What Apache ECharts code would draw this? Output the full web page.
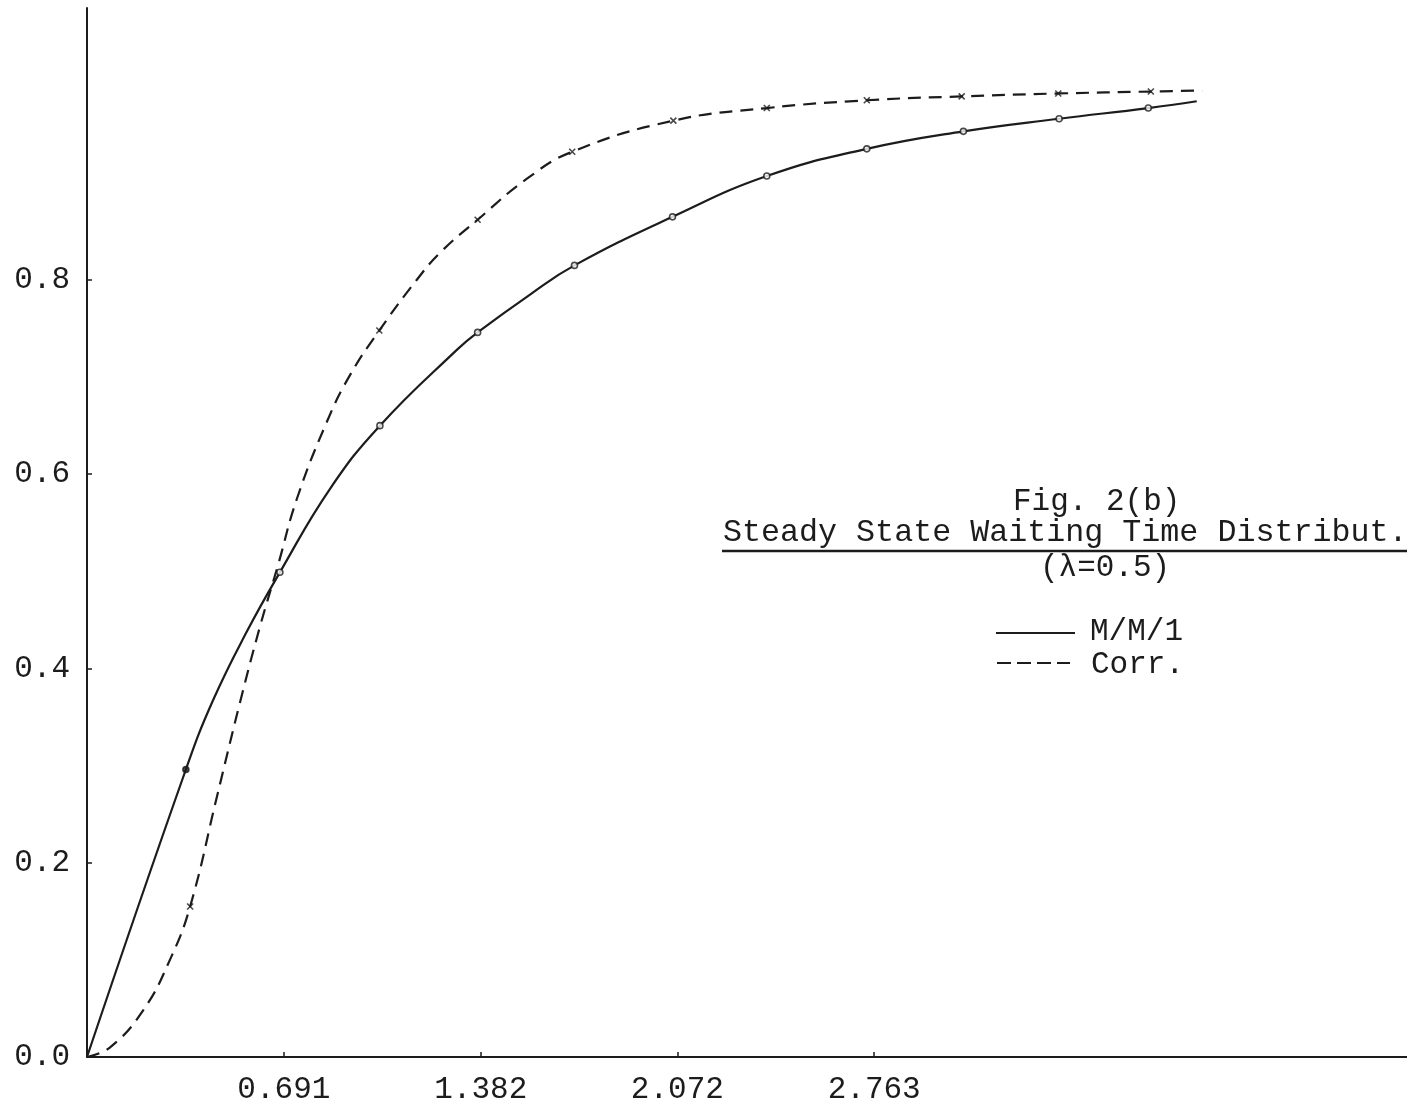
<!DOCTYPE html>
<html>
<head>
<meta charset="utf-8">
<title>Fig. 2(b)</title>
<script src="https://cdn.jsdelivr.net/npm/echarts@6/dist/echarts.min.js"></script>
<style>
  html, body { margin: 0; padding: 0; background: #fff; }
  #chart { width: 1407px; height: 1108px; }
</style>
</head>
<body>
<div id="chart"></div>
<script>
// tick labels
var xTickValues = [0.691, 1.382, 2.072, 2.763];
var yTickValues = [0.0, 0.2, 0.4, 0.6, 0.8];

// M/M/1 - curve points
var mm1CurveX = [0, 0.347, 0.442, 0.561, 0.677, 0.853, 1.028, 1.298, 1.371, 1.555, 1.711, 2.055, 2.386, 2.737, 3.076, 3.412, 3.725, 3.895];
var mm1CurveY = [0, 0.296, 0.367, 0.438, 0.499, 0.585, 0.650, 0.728, 0.746, 0.785, 0.815, 0.865, 0.907, 0.935, 0.953, 0.966, 0.977, 0.984];
// M/M/1 - plotted circles
var mm1MarkX = [0.347, 0.677, 1.028, 1.371, 1.711, 2.055, 2.386, 2.737, 3.076, 3.412, 3.725];
var mm1MarkY = [0.296, 0.499, 0.650, 0.746, 0.815, 0.865, 0.907, 0.935, 0.953, 0.966, 0.977];

// Corr. - curve points
var corrCurveX = [0, 0.081, 0.197, 0.291, 0.362, 0.456, 0.537, 0.607, 0.671, 0.737, 0.842, 0.923, 1.026, 1.157, 1.239, 1.371, 1.543, 1.703, 2.058, 2.386, 2.737, 3.070, 3.409, 3.734, 3.914];
var corrCurveY = [0, 0.010, 0.048, 0.100, 0.155, 0.268, 0.365, 0.443, 0.507, 0.575, 0.654, 0.702, 0.748, 0.800, 0.828, 0.862, 0.904, 0.932, 0.964, 0.977, 0.985, 0.989, 0.992, 0.994, 0.995];
// Corr. - plotted crosses
var corrMarkX = [0.362, 1.026, 1.371, 1.703, 2.058, 2.386, 2.737, 3.070, 3.409, 3.734];
var corrMarkY = [0.155, 0.748, 0.862, 0.932, 0.964, 0.977, 0.985, 0.989, 0.992, 0.994];

var ink = '#1c1c1c';
var monoFont = '"Liberation Mono", "DejaVu Sans Mono", monospace';

function zipPoints(xs, ys) {
  var out = [];
  for (var i = 0, len = xs.length; i < len; i++) {
    out.push([xs[i], ys[i]]);
  }
  return out;
}

// first M/M/1 point is drawn as a filled dot
var mm1Marks = zipPoints(mm1MarkX, mm1MarkY).map(function (p, i) {
  return i === 0 ? { value: p, itemStyle: { color: ink } } : p;
});

function textEl(str, x, y, size) {
  return {
    type: 'text',
    style: {
      text: str, x: x, y: y,
      fill: ink, font: (size || 31) + 'px ' + monoFont,
      textAlign: 'left', textVerticalAlign: 'middle'
    }
  };
}

function lineEl(x1, x2, y, dash, width) {
  return {
    type: 'line',
    shape: { x1: x1, y1: y, x2: x2, y2: y },
    style: { stroke: ink, lineWidth: width || 2.2, lineDash: dash || null }
  };
}

var chart = echarts.init(document.getElementById('chart'));

var option = {
  backgroundColor: '#fff',
  animation: false,
  grid: { left: 87, right: 0, top: 8, bottom: 51 },
  xAxis: {
    type: 'value',
    min: 0,
    max: 4.633,
    axisLine: { lineStyle: { color: ink, width: 2 } },
    axisTick: { show: true, inside: true, length: 5, customValues: xTickValues, lineStyle: { color: ink, width: 1.5 } },
    axisLabel: {
      customValues: xTickValues,
      margin: 17,
      color: ink,
      fontFamily: monoFont,
      fontSize: 31,
      formatter: function (v) { return v.toFixed(3); }
    },
    splitLine: { show: false }
  },
  yAxis: {
    type: 'value',
    min: 0,
    max: 1.08,
    axisLine: { show: true, lineStyle: { color: ink, width: 2 } },
    axisTick: { show: true, inside: true, length: 5, customValues: [0.2, 0.4, 0.6, 0.8], lineStyle: { color: ink, width: 1.5 } },
    axisLabel: {
      customValues: yTickValues,
      margin: 17,
      color: ink,
      fontFamily: monoFont,
      fontSize: 31,
      formatter: function (v) { return v.toFixed(1); }
    },
    splitLine: { show: false }
  },
  series: [
    {
      name: 'M/M/1',
      type: 'line',
      data: zipPoints(mm1CurveX, mm1CurveY),
      smooth: 0.45,
      symbol: 'none',
      lineStyle: { color: ink, width: 2.2 },
      z: 2
    },
    {
      name: 'Corr.',
      type: 'line',
      data: zipPoints(corrCurveX, corrCurveY),
      smooth: 0.45,
      symbol: 'none',
      lineStyle: { color: ink, width: 2.2, type: [13, 8] },
      z: 2
    },
    {
      name: 'M/M/1 points',
      type: 'scatter',
      data: mm1Marks,
      symbol: 'circle',
      symbolSize: 6,
      itemStyle: { color: '#fff', borderColor: ink, borderWidth: 1.6 },
      z: 3
    },
    {
      name: 'Corr. points',
      type: 'scatter',
      data: zipPoints(corrMarkX, corrMarkY),
      symbol: 'path://M0,0L10,10M10,0L0,10',
      symbolSize: 6,
      itemStyle: { color: 'transparent', borderColor: ink, borderWidth: 1.6 },
      z: 3
    }
  ],
  graphic: [
    textEl('Fig. 2(b)', 1013, 502),
    textEl('Steady State Waiting Time Distribut.', 723, 533, 31.7),
    lineEl(722, 1407, 551, null, 2.5),
    textEl('(\u03bb=0.5)', 1040, 568),
    lineEl(996, 1075, 633),
    textEl('M/M/1', 1090, 632),
    lineEl(997, 1070, 663, [14, 6]),
    textEl('Corr.', 1091, 665)
  ]
};

chart.setOption(option);
</script>
</body>
</html>
